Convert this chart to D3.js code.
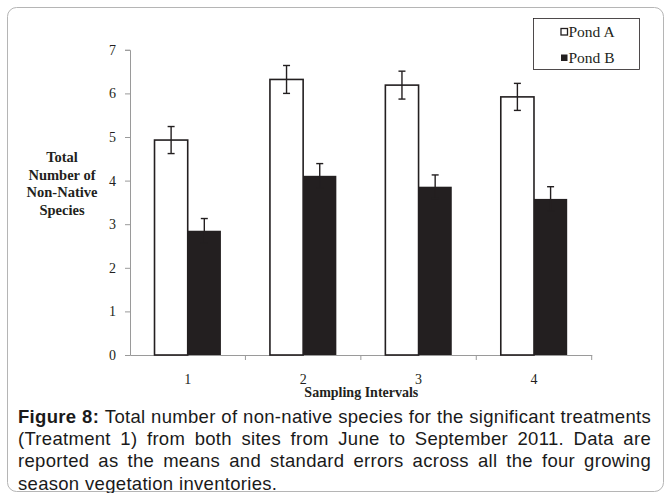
<!DOCTYPE html>
<meta charset="utf-8">
<script src="https://d3js.org/d3.v7.min.js"></script>
<style>
  body { margin: 0; background: #fff; }
</style>
<div id="chart"></div>
<script>
var intervals = ["1", "2", "3", "4"];
var series = ["Pond A", "Pond B"];
var pondA = [4.93, 6.32, 6.19, 5.92];
var pondB = [2.85, 4.11, 3.86, 3.58];
var seA = [0.31, 0.32, 0.32, 0.31];
var seB = [0.28, 0.28, 0.27, 0.28];
var yTicks = [0, 1, 2, 3, 4, 5, 6, 7];
var captionLines = [
    "Total number of non-native species for the significant treatments",
    "(Treatment 1) from both sites from June to September 2011. Data are",
    "reported as the means and standard errors across all the four growing",
    "season vegetation inventories."
];

var W = 669, H = 493;
var dark = "#231f20";
var serif = "'Liberation Serif', 'Times New Roman', serif";
var sans = "'Liberation Sans', Arial, sans-serif";

var svg = d3.select("#chart").append("svg")
    .attr("width", W)
    .attr("height", H);

// outer frame
svg.append("rect")
    .attr("x", 7.5).attr("y", 7.5)
    .attr("width", 656).attr("height", 484)
    .attr("rx", 9)
    .attr("fill", "none")
    .attr("stroke", "#b5b5b5")
    .attr("stroke-width", 1);

var x = d3.scaleBand().domain(intervals).range([130, 591.7]);
var sub = d3.scaleBand().domain(series).range([0, 66.4]);
var y = d3.scaleLinear().domain([0, 7]).range([355, 49.8]);

var data = intervals.map(function(k, i) {
    return [
        { key: k, s: "Pond A", v: pondA[i], se: seA[i] },
        { key: k, s: "Pond B", v: pondB[i], se: seB[i] }
    ];
});

// y axis
var yAxis = svg.append("g")
    .attr("transform", "translate(130,0)")
    .call(d3.axisLeft(y).tickValues(yTicks).tickFormat(d3.format("d")).tickSize(5).tickPadding(9));
yAxis.select(".domain").attr("stroke", "#9a9a9a");
yAxis.selectAll(".tick line").attr("stroke", "#9a9a9a");
yAxis.selectAll("text")
    .attr("font-family", serif)
    .attr("font-size", 14)
    .attr("fill", dark);

// x axis
var xAxis = svg.append("g")
    .attr("transform", "translate(0,355)")
    .call(d3.axisBottom(x).tickSize(0).tickPadding(19));
xAxis.select(".domain").attr("stroke", "#9a9a9a");
xAxis.selectAll("text")
    .attr("font-family", serif)
    .attr("font-size", 14)
    .attr("fill", dark);
// ticks between categories
var bounds = intervals.map(function(k) { return x(k); }).concat([x.range()[1]]);
svg.append("g").selectAll("line")
    .data(bounds.slice(1))
    .join("line")
    .attr("x1", function(d) { return d; })
    .attr("x2", function(d) { return d; })
    .attr("y1", 355).attr("y2", 360)
    .attr("stroke", "#9a9a9a");

// bars
var groups = svg.append("g").selectAll("g")
    .data(data)
    .join("g")
    .attr("transform", function(d) {
        return "translate(" + (x(d[0].key) + (x.bandwidth() - 66.4) / 2) + ",0)";
    });

groups.selectAll("rect")
    .data(function(d) { return d; })
    .join("rect")
    .attr("x", function(d) { return sub(d.s); })
    .attr("y", function(d) { return y(d.v); })
    .attr("width", sub.bandwidth())
    .attr("height", function(d) { return y(0) - y(d.v); })
    .attr("fill", function(d) { return d.s === "Pond A" ? "#fff" : dark; })
    .attr("stroke", dark)
    .attr("stroke-width", function(d) { return d.s === "Pond A" ? 1.6 : 0; });

// error bars
var err = groups.selectAll("g.err")
    .data(function(d) { return d; })
    .join("g")
    .attr("class", "err")
    .attr("stroke", dark)
    .attr("stroke-width", 1.4);
err.append("line")
    .attr("x1", function(d) { return sub(d.s) + sub.bandwidth() / 2; })
    .attr("x2", function(d) { return sub(d.s) + sub.bandwidth() / 2; })
    .attr("y1", function(d) { return y(d.v + d.se); })
    .attr("y2", function(d) { return y(d.v - d.se); });
[1, -1].forEach(function(sign) {
    err.append("line")
        .attr("x1", function(d) { return sub(d.s) + sub.bandwidth() / 2 - 3.5; })
        .attr("x2", function(d) { return sub(d.s) + sub.bandwidth() / 2 + 3.5; })
        .attr("y1", function(d) { return y(d.v + sign * d.se); })
        .attr("y2", function(d) { return y(d.v + sign * d.se); });
});

// y axis title
var yTitle = svg.append("text")
    .attr("font-family", serif)
    .attr("font-size", 14.5)
    .attr("font-weight", "bold")
    .attr("fill", dark)
    .attr("text-anchor", "middle");
["Total", "Number of", "Non-Native", "Species"].forEach(function(t, i) {
    yTitle.append("tspan").attr("x", 62).attr("y", 162 + i * 17.5).text(t);
});

// x axis title
svg.append("text")
    .attr("x", x.range()[0] + (x.range()[1] - x.range()[0]) / 2 + 0.5)
    .attr("y", 397)
    .attr("text-anchor", "middle")
    .attr("font-family", serif)
    .attr("font-size", 14)
    .attr("font-weight", "bold")
    .attr("fill", dark)
    .text("Sampling Intervals");

// legend
var legend = svg.append("g");
legend.append("rect")
    .attr("x", 533.5).attr("y", 18.5)
    .attr("width", 106).attr("height", 51)
    .attr("fill", "#fff")
    .attr("stroke", dark)
    .attr("stroke-width", 0.8);
series.forEach(function(s, i) {
    var cy = 32 + i * 26;
    legend.append("rect")
        .attr("x", 561).attr("y", cy - 3.5)
        .attr("width", 6.5).attr("height", 6.5)
        .attr("fill", i === 0 ? "#fff" : dark)
        .attr("stroke", dark)
        .attr("stroke-width", i === 0 ? 1.3 : 0);
    legend.append("text")
        .attr("x", 568.5).attr("y", cy + 5)
        .attr("font-family", serif)
        .attr("font-size", 15.5)
        .attr("fill", dark)
        .text(s);
});

// caption, justified between left and right edges
var capLeft = 18, capRight = 651, capTop = 423, capStep = 22.2;
captionLines.forEach(function(line, i) {
    var words = line.split(" ");
    if (i === 0) words = ["Figure", "8:"].concat(words);
    var yy = capTop + i * capStep;
    var nodes = words.map(function(w, j) {
        return svg.append("text")
            .attr("y", yy)
            .attr("font-family", sans)
            .attr("font-size", 18.5)
            .attr("letter-spacing", 0.3)
            .attr("font-weight", i === 0 && j < 2 ? "bold" : "normal")
            .attr("fill", "#1a1a1a")
            .text(w);
    });
    var widths = nodes.map(function(n) { return n.node().getComputedTextLength(); });
    var total = d3.sum(widths);
    var gap = i === captionLines.length - 1 ? 5.6 : (capRight - capLeft - total) / (words.length - 1);
    var cx = capLeft;
    nodes.forEach(function(n, j) {
        n.attr("x", cx);
        cx += widths[j] + gap;
    });
});
</script>
